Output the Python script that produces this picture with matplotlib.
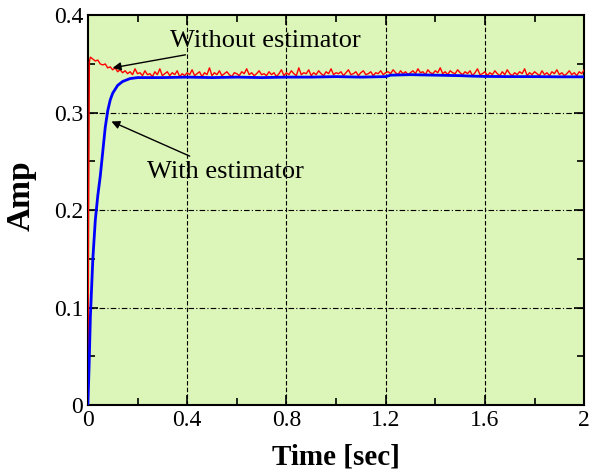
import numpy as np
import matplotlib.pyplot as plt
from matplotlib.ticker import MultipleLocator

# red: without estimator (sampled every 0.01 s after the first jump)
red_t0 = [0.0, 0.003, 0.006]
red_v0 = [0.0, 0.200, 0.352]
red_v = [
    0.357, 0.355, 0.353, 0.354, 0.350, 0.349, 0.350, 0.346, 0.347, 0.344,
    0.346, 0.342, 0.344, 0.341, 0.343, 0.340, 0.342, 0.339, 0.345, 0.340,
    0.341, 0.338, 0.343, 0.339, 0.340, 0.337, 0.342, 0.339, 0.345, 0.338,
    0.340, 0.342, 0.338, 0.341, 0.339, 0.343, 0.337, 0.340, 0.338, 0.341,
    0.339, 0.344, 0.338, 0.340, 0.342, 0.337, 0.341, 0.339, 0.346, 0.338,
    0.341, 0.339, 0.343, 0.338, 0.340, 0.342, 0.339, 0.337, 0.341, 0.340,
    0.338, 0.342, 0.340, 0.345, 0.339, 0.341, 0.338, 0.340, 0.343, 0.339,
    0.340, 0.338, 0.342, 0.339, 0.341, 0.337, 0.340, 0.344, 0.338, 0.341,
    0.339, 0.343, 0.340, 0.338, 0.346, 0.339, 0.341, 0.340, 0.344, 0.338,
    0.341, 0.339, 0.343, 0.340, 0.338, 0.342, 0.340, 0.345, 0.339, 0.341,
    0.340, 0.342, 0.338, 0.341, 0.344, 0.339, 0.340, 0.342, 0.338, 0.341,
    0.343, 0.339, 0.340, 0.342, 0.338, 0.341, 0.340, 0.343, 0.339, 0.341,
    0.342, 0.340, 0.344, 0.341, 0.339, 0.343, 0.340, 0.342, 0.339, 0.341,
    0.343, 0.340, 0.345, 0.341, 0.342, 0.339, 0.344, 0.341, 0.340, 0.343,
    0.341, 0.346, 0.340, 0.342, 0.339, 0.343, 0.341, 0.340, 0.344, 0.341,
    0.339, 0.342, 0.340, 0.343, 0.338, 0.341, 0.345, 0.339, 0.340, 0.342,
    0.338, 0.341, 0.339, 0.343, 0.340, 0.338, 0.342, 0.339, 0.344, 0.340,
    0.338, 0.341, 0.339, 0.342, 0.340, 0.345, 0.338, 0.341, 0.339, 0.342,
    0.340, 0.338, 0.343, 0.339, 0.341, 0.338, 0.342, 0.340, 0.344, 0.339,
    0.341, 0.338, 0.340, 0.343, 0.339, 0.341, 0.338, 0.342, 0.340, 0.344,
]
red_t = red_t0 + [round(0.01 * (i + 1), 2) for i in range(len(red_v))]
red_v = red_v0 + red_v

# blue: with estimator
blue_t = [0, 0.005, 0.01, 0.02, 0.03, 0.04, 0.05, 0.06, 0.07, 0.08, 0.09,
          0.10, 0.12, 0.14, 0.17, 0.20, 0.30, 0.40, 0.50, 0.60, 0.70, 0.80,
          0.90, 1.00, 1.10, 1.20, 1.22, 1.30, 1.40, 1.50, 1.55, 1.60, 1.70,
          1.80, 1.90, 2.00]
blue_v = [0, 0.04, 0.09, 0.15, 0.19, 0.215, 0.235, 0.26, 0.285, 0.302, 0.313,
          0.320, 0.328, 0.332, 0.335, 0.336, 0.336, 0.3365, 0.336, 0.3365,
          0.336, 0.3365, 0.3365, 0.337, 0.3365, 0.337, 0.3385, 0.339, 0.3385,
          0.338, 0.3375, 0.3372, 0.337, 0.337, 0.3368, 0.3368]

xtick_vals = [0, 0.4, 0.8, 1.2, 1.6, 2]
xtick_labels = ['0', '0.4', '0.8', '1.2', '1.6', '2']
ytick_vals = [0, 0.1, 0.2, 0.3, 0.4]
ytick_labels = ['0', '0.1', '0.2', '0.3', '0.4']

plt.rcParams['font.family'] = ['Liberation Serif', 'DejaVu Serif']

fig = plt.figure(figsize=(6.06, 4.75), dpi=100)
ax = fig.add_axes([0.145, 0.147, 0.819, 0.821])
ax.set_facecolor('#dcf5b8')

ax.plot(red_t, red_v, color='red', lw=1.0, zorder=3)
ax.plot(blue_t, blue_v, color='blue', lw=2.0, zorder=4)

ax.set_xlim(0, 2)
ax.set_ylim(0, 0.4)
ax.set_xticks(xtick_vals)
ax.set_xticklabels(xtick_labels)
ax.set_yticks(ytick_vals)
ax.set_yticklabels(ytick_labels)
ax.xaxis.set_minor_locator(MultipleLocator(0.2))
ax.yaxis.set_minor_locator(MultipleLocator(0.05))
ax.tick_params(which='both', direction='in', top=True, right=True,
               labelsize=17, width=1.2)
ax.tick_params(which='major', length=7)
ax.tick_params(which='minor', length=5)

for x in xtick_vals[1:-1]:
    ax.axvline(x, color='black', lw=0.8, ls=(0, (4, 2)), zorder=1)
for y in ytick_vals[1:-1]:
    ax.axhline(y, color='black', lw=0.8, ls=(0, (5, 2, 1, 2)), zorder=1)

for s in ax.spines.values():
    s.set_linewidth(1.5)

ax.set_xlabel('Time [sec]', fontsize=21, fontweight='bold')
ax.xaxis.set_label_coords(0.5, -0.097)
ax.set_ylabel('Amp', fontsize=24, fontweight='bold')
ax.yaxis.set_label_coords(-0.103, 0.536)

ax.annotate('Without estimator', xy=(0.1, 0.346), xytext=(0.33, 0.374),
            fontsize=19, va='center', ha='left',
            arrowprops=dict(arrowstyle='-|>', color='black', lw=1,
                            mutation_scale=12, shrinkA=2, shrinkB=0))
ax.annotate('With estimator', xy=(0.095, 0.291), xytext=(0.24, 0.239),
            fontsize=19, va='center', ha='left',
            arrowprops=dict(arrowstyle='-|>', color='black', lw=1,
                            mutation_scale=12, shrinkA=4, shrinkB=0))

fig.savefig('out.png', dpi=100)
